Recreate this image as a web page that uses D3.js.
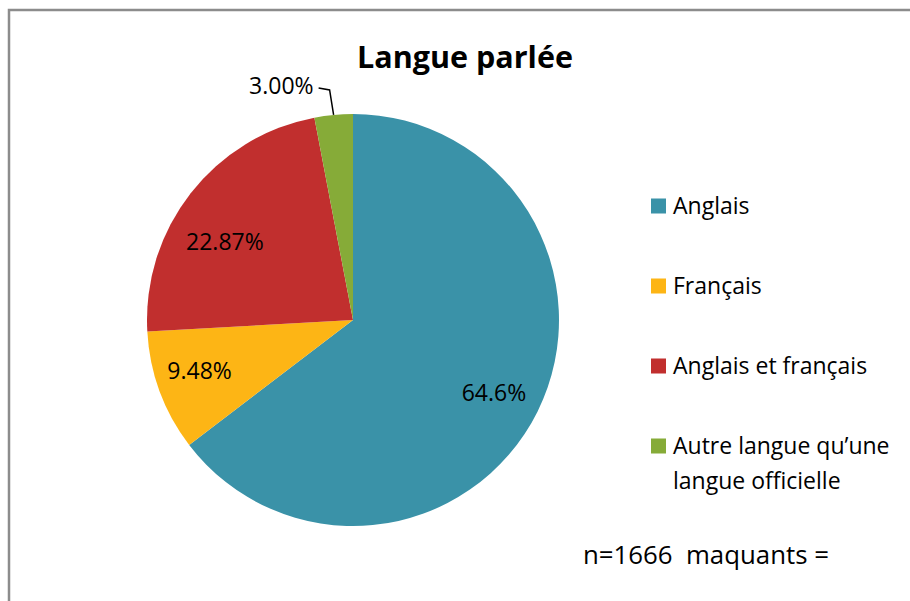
<!DOCTYPE html>
<html>
<head>
<meta charset="utf-8">
<script src="https://cdn.jsdelivr.net/npm/d3@7"></script>
<style>
  html, body { margin: 0; padding: 0; background: #fff; }
  svg text { font-family: "Open Sans", "Noto Sans", sans-serif; fill: #000; }
</style>
</head>
<body>
<svg id="chart" width="910" height="601"></svg>
<script>
// Langue parlée — share of respondents by spoken language
const categories = ["Anglais", "Français", "Anglais et français", "Autre langue qu\u2019une langue officielle"];
const values = [64.6, 9.48, 22.87, 3.00];
const valueLabels = ["64.6%", "9.48%", "22.87%", "3.00%"];
const colors = ["#3A92A8", "#FDB515", "#C12F2E", "#86AB38"];
const title = "Langue parlée";
const note = "n=1666  maquants =";

const svg = d3.select("#chart");

// chart frame (right and bottom edges fall outside the view)
svg.append("rect")
  .attr("x", 9).attr("y", 10)
  .attr("width", 1000).attr("height", 1000)
  .attr("fill", "#fff")
  .attr("stroke", "#8c8c8c").attr("stroke-width", 2.5);

// title
svg.append("text")
  .attr("x", 465).attr("y", 68)
  .attr("text-anchor", "middle")
  .attr("font-size", 30.5).attr("font-weight", "bold")
  .text(title);

// pie
const cx = 353, cy = 320, R = 206;
const pie = d3.pie().sort(null).value(d => d)(values);
const arc = d3.arc().innerRadius(0).outerRadius(R);
const g = svg.append("g").attr("transform", `translate(${cx},${cy})`);

g.selectAll("path.slice")
  .data(pie)
  .join("path")
  .attr("class", "slice")
  .attr("d", arc)
  .attr("fill", (d, i) => colors[i]);

// labels inside slices, placed along each slice's bisector
const labelArc = d3.arc().innerRadius(155).outerRadius(155);
const nudge = [[2, 3], [-8, -4], [-6, 16], [0, 0]];
pie.forEach((d, i) => {
  if (i === 3) return;
  const [x, y] = labelArc.centroid(d);
  g.append("text")
    .attr("x", x + nudge[i][0]).attr("y", y + nudge[i][1])
    .attr("text-anchor", "middle")
    .attr("dominant-baseline", "central")
    .attr("font-size", 23)
    .text(valueLabels[i]);
});

// small slice: label outside with a leader line
{
  const d = pie[3];
  const mid = (d.startAngle + d.endAngle) / 2;
  const ex = R * Math.sin(mid), ey = -R * Math.cos(mid);
  const ly = ey - 25;
  g.append("polyline")
    .attr("points", `${ex},${ey} ${ex - 4},${ly} ${ex - 15},${ly - 2}`)
    .attr("fill", "none").attr("stroke", "#000").attr("stroke-width", 1.5);
  g.append("text")
    .attr("x", ex - 20).attr("y", ly - 5)
    .attr("text-anchor", "end")
    .attr("dominant-baseline", "central")
    .attr("font-size", 23)
    .text(valueLabels[3]);
}

// legend
const legendX = 651, legendY0 = 206, legendStep = 80;
const leg = svg.append("g");
categories.forEach((c, i) => {
  const y = legendY0 + i * legendStep;
  leg.append("rect")
    .attr("x", legendX).attr("y", y - 7.5)
    .attr("width", 15).attr("height", 15)
    .attr("fill", colors[i]);
  const t = leg.append("text")
    .attr("x", legendX + 22).attr("y", y - 1)
    .attr("dominant-baseline", "central")
    .attr("font-size", 23);
  if (i === 3) {
    t.append("tspan").attr("x", legendX + 22).text("Autre langue qu\u2019une");
    t.append("tspan").attr("x", legendX + 22).attr("dy", 35).text("langue officielle");
  } else {
    t.text(c);
  }
});

// sample size note
svg.append("text")
  .attr("x", 583).attr("y", 554)
  .attr("dominant-baseline", "central")
  .attr("font-size", 25.8)
  .style("white-space", "pre")
  .text(note);
</script>
</body>
</html>
